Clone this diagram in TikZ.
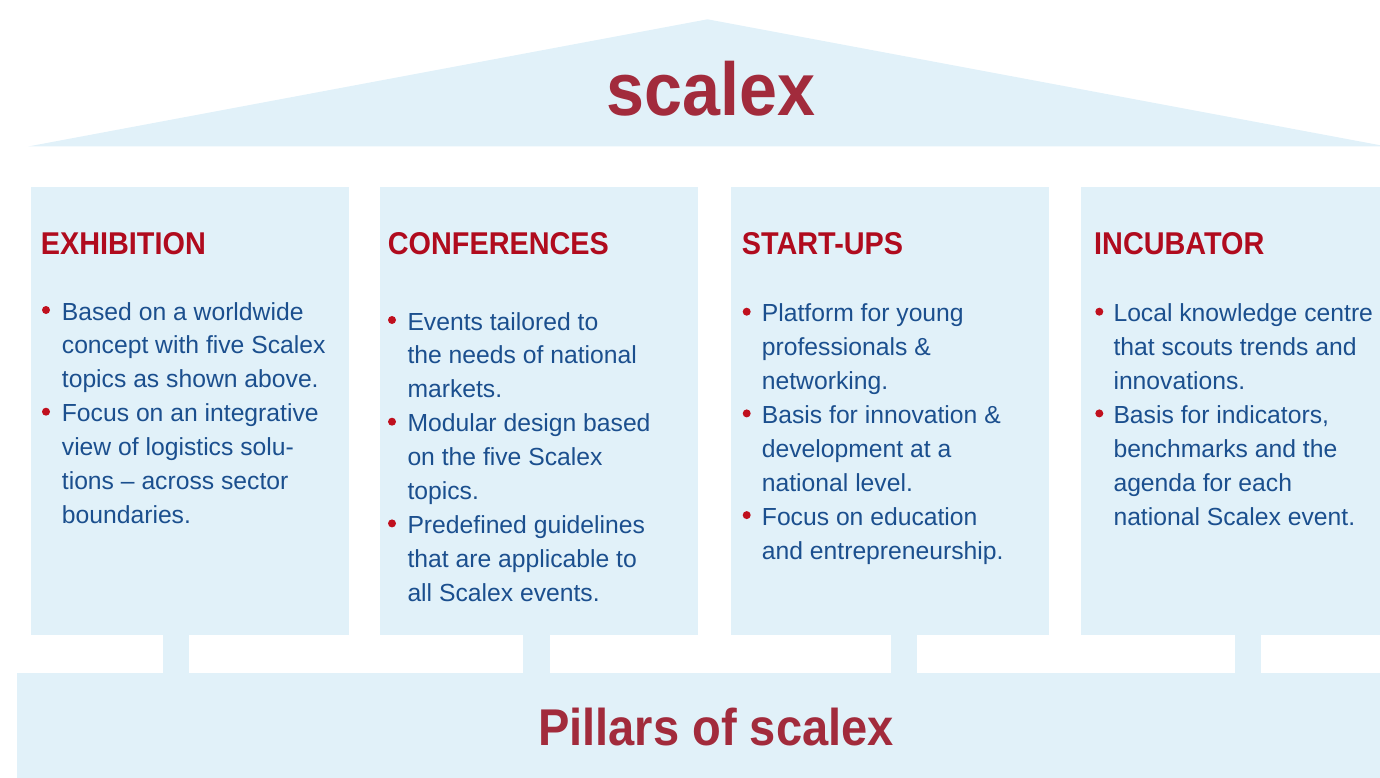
\documentclass[tikz,border=0pt]{standalone}
\usepackage{fontspec}
\setmainfont{Liberation Sans}
\newfontfamily\headfont{Liberation Sans}[FakeStretch=0.915]
\newfontfamily\titlefont{Liberation Sans}[FakeStretch=0.91]
\definecolor{paleblue}{HTML}{E1F1F9}
\definecolor{titlered}{HTML}{A22B3C}
\definecolor{headred}{HTML}{B00B1E}
\definecolor{bodyblue}{HTML}{1B4F8E}
\definecolor{dotred}{HTML}{C0101E}
\begin{document}
\begin{tikzpicture}[x=1pt,y=-1pt,
  pillar/.style={fill=paleblue, draw=none, inner sep=0pt, anchor=north west,
                 minimum width=318pt, minimum height=448pt},
  head/.style={font=\headfont\bfseries\fontsize{31.5}{36}\selectfont, text=headred,
               inner sep=0pt, anchor=base west},
  % multi-line body text: the anchor sits on the baseline of the last line
  body/.style={font=\fontsize{24.7}{33.9}\selectfont, text=bodyblue, inner sep=0pt,
               align=left, anchor=base west},
  dot/.style={circle, fill=dotred, draw=none, inner sep=0pt, minimum size=8pt},
  bigtitle/.style={font=\titlefont\bfseries\fontsize{75}{80}\selectfont, text=titlered,
                   inner sep=0pt, anchor=base}
]
\useasboundingbox (0,0) rectangle (1380,778);
\clip (0,0) rectangle (1380,778);

% roof
\fill[paleblue] (28,146.5) -- (707.5,19.3) -- (1387,146.5) -- cycle;
\node[bigtitle] (title) at (711,115.7) {scalex};

% pillars
\node[pillar] (p1) at (30.4,186.7) {};
\node[pillar] (p2) at (380,186.7) {};
\node[pillar] (p3) at (730.5,186.7) {};
\node[pillar] (p4) at (1081,186.7) {};

% stems between pillars and base
\fill[paleblue] (163,634) rectangle (189,673);
\fill[paleblue] (523,634) rectangle (549.5,673);
\fill[paleblue] (890.7,634) rectangle (917,673);
\fill[paleblue] (1234.5,634) rectangle (1261,673);

% base
\node[fill=paleblue, inner sep=0pt, anchor=north west, minimum width=1380pt,
      minimum height=120pt] (base) at (17,672.3) {};
\node[bigtitle, font=\titlefont\bfseries\fontsize{51.7}{56}\selectfont]
  (basetitle) at (716,745) {Pillars of scalex};

% EXHIBITION
\node[head] (h1) at (40.7,254.3) {EXHIBITION};
\node[dot] (d11) at (46,310) {};
\node[body] (t11) at (61.7,387.8) {Based on a worldwide\\concept with five Scalex\\topics as shown above.};
\node[dot] (d12) at (46,411.7) {};
\node[body] (t12) at (61.7,523.4) {Focus on an integrative\\view of logistics solu-\\tions -- across sector\\boundaries.};

% CONFERENCES
\node[head] (h2) at (387.7,254.3) {CONFERENCES};
\node[dot] (d21) at (392,320) {};
\node[body] (t21) at (407.3,397.8) {Events tailored to\\the needs of national\\markets.};
\node[dot] (d22) at (392,421.7) {};
\node[body] (t22) at (407.3,499.5) {Modular design based\\on the five Scalex\\topics.};
\node[dot] (d23) at (392,523.4) {};
\node[body] (t23) at (407.3,601.2) {Predefined guidelines\\that are applicable to\\all Scalex events.};

% START-UPS
\node[head] (h3) at (741.7,254.3) {START-UPS};
\node[dot] (d31) at (746.7,311.7) {};
\node[body] (t31) at (761.7,389.5) {Platform for young\\professionals \&\\networking.};
\node[dot] (d32) at (746.7,413.4) {};
\node[body] (t32) at (761.7,491.2) {Basis for innovation \&\\development at a\\national level.};
\node[dot] (d33) at (746.7,515.1) {};
\node[body] (t33) at (761.7,559) {Focus on education\\and entrepreneurship.};

% INCUBATOR
\node[head] (h4) at (1094,254.3) {INCUBATOR};
\node[dot] (d41) at (1099.3,311.7) {};
\node[body] (t41) at (1113.3,389.5) {Local knowledge centre\\that scouts trends and\\innovations.};
\node[dot] (d42) at (1099.3,413.4) {};
\node[body] (t42) at (1113.3,525.1) {Basis for indicators,\\benchmarks and the\\agenda for each\\national Scalex event.};
\end{tikzpicture}
\end{document}
